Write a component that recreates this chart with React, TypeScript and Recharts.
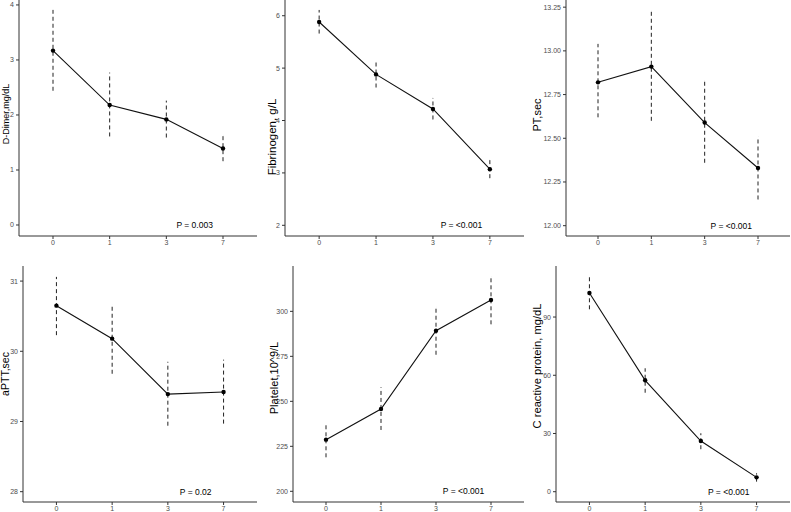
import { ErrorBar, Line, LineChart, ReferenceDot, XAxis, YAxis } from "recharts";

const days = ["0", "1", "3", "7"];

const dDimerMean = [3.17, 2.18, 1.92, 1.39];
const dDimerLow = [2.44, 1.61, 1.59, 1.16];
const dDimerHigh = [3.91, 2.77, 2.26, 1.63];

const fibMean = [5.88, 4.88, 4.22, 3.07];
const fibLow = [5.66, 4.63, 4.02, 2.9];
const fibHigh = [6.11, 5.13, 4.43, 3.25];

const ptMean = [12.82, 12.91, 12.59, 12.33];
const ptLow = [12.62, 12.6, 12.36, 12.15];
const ptHigh = [13.04, 13.23, 12.83, 12.51];

const apttMean = [30.65, 30.18, 29.39, 29.42];
const apttLow = [30.23, 29.68, 28.94, 28.97];
const apttHigh = [31.06, 30.67, 29.85, 29.88];

const pltMean = [228.7, 245.7, 289.2, 306.3];
const pltLow = [218.9, 234.1, 275.9, 292.8];
const pltHigh = [238.1, 257.8, 302.4, 319.2];

const crpMean = [102.4, 57.4, 26.1, 7.4];
const crpLow = [94.0, 51.0, 21.9, 5.2];
const crpHigh = [110.8, 63.6, 30.1, 9.5];

const dDimerTicks = [0, 1, 2, 3, 4];
const fibTicks = [2, 3, 4, 5, 6];
const ptTicks = [12, 12.25, 12.5, 12.75, 13, 13.25];
const apttTicks = [28, 29, 30, 31];
const pltTicks = [200, 225, 250, 275, 300];
const crpTicks = [0, 30, 60, 90];

const pValues = ["P = 0.003", "P = <0.001", "P = <0.001", "P = 0.02", "P = <0.001", "P = <0.001"];

const YW = 10;
const XH = 10;

interface PanelProps {
  title: string;
  means: number[];
  lows: number[];
  highs: number[];
  ticks: number[];
  domain: [number, number];
  pText: string;
  decimals?: number;
  box: { left: number; top: number; w: number; h: number };
  plot: { x0: number; x1: number; y0: number; y1: number };
  titleGap: number;
  titleY: number;
  titleSize: number;
}

function Panel(p: PanelProps) {
  const rows = days.map((d, i) => ({
    i,
    mean: p.means[i],
    err: [p.means[i] - p.lows[i], p.highs[i] - p.means[i]],
  }));
  const { box, plot } = p;
  const margin = {
    left: plot.x0 - box.left - YW,
    right: box.left + box.w - plot.x1,
    top: plot.y0 - box.top,
    bottom: box.top + box.h - plot.y1 - XH,
  };
  const tx = plot.x0 - box.left - p.titleGap;
  const ty = p.titleY - box.top;
  const tickStyle = { fontSize: 7, fill: "#4d4d4d" };
  return (
    <div style={{ position: "absolute", left: box.left, top: box.top, width: box.w, height: box.h }}>
      <LineChart width={box.w} height={box.h} data={rows} margin={margin}>
        <XAxis
          type="number"
          dataKey="i"
          domain={[-0.6, 3.6]}
          ticks={[0, 1, 2, 3]}
          tickFormatter={(v) => days[v]}
          allowDataOverflow
          height={XH}
          tick={tickStyle}
          tickSize={3}
          tickMargin={1}
          stroke="#333"
        />
        <YAxis
          type="number"
          domain={p.domain}
          ticks={p.ticks}
          allowDataOverflow
          width={YW}
          tick={tickStyle}
          tickSize={3}
          tickMargin={2}
          stroke="#333"
          tickFormatter={(v) => (p.decimals ? v.toFixed(p.decimals) : String(v))}
        />
        <Line
          dataKey="mean"
          stroke="#111"
          strokeWidth={1.1}
          dot={{ r: 2.2, fill: "#000", stroke: "#000", strokeWidth: 0 }}
          isAnimationActive={false}
        >
          <ErrorBar
            dataKey="err"
            width={0}
            stroke="#222"
            strokeWidth={1}
            strokeDasharray="4 3"
            direction="y"
            isAnimationActive={false}
          />
        </Line>
        <ReferenceDot
          x={2.5}
          y={p.ticks[0]}
          r={0}
          fill="none"
          stroke="none"
          label={{ value: p.pText, position: "center", fill: "#000", fontSize: 8.5 }}
        />
      </LineChart>
      <svg
        width={box.w}
        height={box.h}
        style={{ position: "absolute", left: 0, top: 0, pointerEvents: "none" }}
      >
        <g transform={`translate(${tx},${ty}) rotate(-90)`}>
          <text x={0} y={0} textAnchor="middle" dominantBaseline="central" fontSize={p.titleSize} fill="#000">
            {p.title}
          </text>
        </g>
      </svg>
    </div>
  );
}

export default function App() {
  return (
    <div
      style={{
        position: "absolute",
        left: 0,
        top: 0,
        width: 791,
        height: 512,
        background: "#fff",
        fontFamily: "'Liberation Sans', Arial, sans-serif",
      }}
    >
      <Panel
        title="D-Dimer,mg/dL"
        means={dDimerMean}
        lows={dDimerLow}
        highs={dDimerHigh}
        ticks={dDimerTicks}
        domain={[-0.2, 4.09]}
        pText={pValues[0]}
        box={{ left: 0, top: 0, w: 263, h: 256 }}
        plot={{ x0: 19, x1: 257, y0: 0, y1: 236 }}
        titleGap={13.5}
        titleY={114}
        titleSize={9}
      />
      <Panel
        title="Fibrinogen, g/L"
        means={fibMean}
        lows={fibLow}
        highs={fibHigh}
        ticks={fibTicks}
        domain={[1.796, 6.3]}
        pText={pValues[1]}
        box={{ left: 263, top: 0, w: 264, h: 256 }}
        plot={{ x0: 285, x1: 524, y0: 0, y1: 236 }}
        titleGap={13}
        titleY={137}
        titleSize={11.5}
      />
      <Panel
        title="PT,sec"
        means={ptMean}
        lows={ptLow}
        highs={ptHigh}
        ticks={ptTicks}
        domain={[11.941, 13.291]}
        decimals={2}
        pText={pValues[2]}
        box={{ left: 527, top: 0, w: 264, h: 256 }}
        plot={{ x0: 566, x1: 790, y0: 0, y1: 236 }}
        titleGap={29}
        titleY={115}
        titleSize={11}
      />
      <Panel
        title="aPTT,sec"
        means={apttMean}
        lows={apttLow}
        highs={apttHigh}
        ticks={apttTicks}
        domain={[27.853, 31.215]}
        pText={pValues[3]}
        box={{ left: 0, top: 256, w: 263, h: 256 }}
        plot={{ x0: 23, x1: 257, y0: 266, y1: 502 }}
        titleGap={18}
        titleY={374}
        titleSize={10.5}
      />
      <Panel
        title="Platelet,10^9/L"
        means={pltMean}
        lows={pltLow}
        highs={pltHigh}
        ticks={pltTicks}
        domain={[194.06, 325.2]}
        pText={pValues[4]}
        box={{ left: 263, top: 256, w: 264, h: 256 }}
        plot={{ x0: 293, x1: 524, y0: 266, y1: 502 }}
        titleGap={19.5}
        titleY={378}
        titleSize={11}
      />
      <Panel
        title="C reactive protein, mg/dL"
        means={crpMean}
        lows={crpLow}
        highs={crpHigh}
        ticks={crpTicks}
        domain={[-5.3, 116.3]}
        pText={pValues[5]}
        box={{ left: 527, top: 256, w: 264, h: 256 }}
        plot={{ x0: 556, x1: 790, y0: 266, y1: 502 }}
        titleGap={19}
        titleY={366}
        titleSize={11.2}
      />
    </div>
  );
}
